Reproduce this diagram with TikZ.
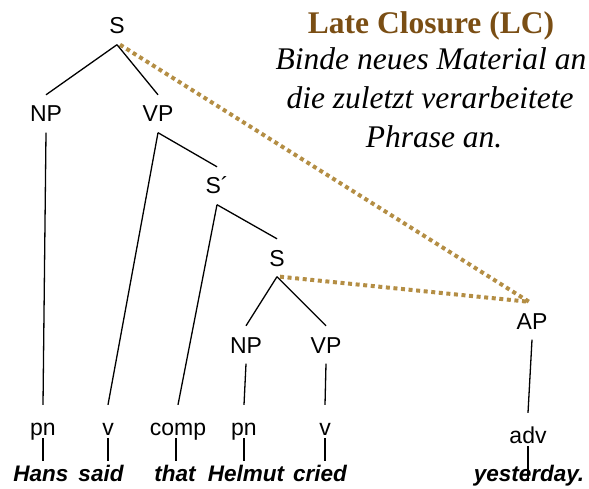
\documentclass[tikz,border=0pt]{standalone}
\usepackage{fontspec}
\setmainfont{Liberation Serif}
\setsansfont{Liberation Sans}
\definecolor{lcbrown}{RGB}{122,78,20}
\definecolor{lcgold}{RGB}{180,142,68}
\begin{document}
\begin{tikzpicture}[x=1pt,y=-1pt,
  lab/.style={font=\sffamily\fontsize{23}{27}\selectfont, inner xsep=0pt, inner ysep=10.5pt, text height=16.5pt, text depth=0pt, anchor=base},
  leaf/.style={font=\sffamily\fontsize{23}{27}\selectfont, inner sep=0pt, text height=30pt, text depth=3pt, anchor=base},
  word/.style={font=\sffamily\bfseries\itshape\fontsize{22.5}{27}\selectfont, inner sep=0pt, text height=20pt, text depth=5pt, anchor=base},
  edge/.style={draw=black, line width=1.3pt},
  lc/.style={draw=lcgold, line width=4pt, dash pattern=on 4pt off 3.6pt},
  rule/.style={font=\itshape\fontsize{31.5}{39}\selectfont, inner sep=0pt, anchor=base}
]
\useasboundingbox (0,0) rectangle (589,489);
% title and rule
\node[font=\bfseries\fontsize{31.5}{36}\selectfont, text=lcbrown, inner sep=0pt, anchor=base] (title) at (431,34) {Late Closure (LC)};
\node[rule] (rule1) at (431,70) {Binde neues Material an};
\node[rule] (rule2) at (430,109) {die zuletzt verarbeitete};
\node[rule] (rule3) at (434,148) {Phrase an.};
% tree labels
\node[lab] (S) at (117,34) {S};
\node[lab] (NP) at (46,122) {NP};
\node[lab] (VP) at (158,122) {VP};
\node[lab] (Sbar) at (217,194) {S´};
\node[lab] (S2) at (277,266) {S};
\node[lab] (NP2) at (246,353) {NP};
\node[lab] (VP2) at (326,353) {VP};
\node[lab] (AP) at (532,329) {AP};
% leaves
\node[leaf] (pn1) at (43,435) {pn};
\node[leaf] (v1) at (108,435) {v};
\node[leaf] (comp) at (178,435) {comp};
\node[leaf] (pn2) at (244,435) {pn};
\node[leaf] (v2) at (325,435) {v};
\node[leaf] (adv) at (528,443) {adv};
% words
\node[word] (w1) at (41,481) {Hans};
\node[word] (w2) at (101,481) {said};
\node[word] (w3) at (175,481) {that};
\node[word] (w4) at (246,481) {Helmut};
\node[word] (w5) at (320,481) {cried};
\node[word] (w6) at (529,481) {yesterday.};
% dotted attachment lines
\draw[lc] ([xshift=3pt]S.south) -- ([xshift=-3pt]AP.north);
\draw[lc] ([xshift=3pt]S2.south) -- ([xshift=-3pt]AP.north);
% tree edges
\draw[edge] (S.south) -- (NP.north);
\draw[edge] (S.south) -- (VP.north);
\draw[edge] (NP.south) -- (pn1.north);
\draw[edge] (VP.south) -- (v1.north);
\draw[edge] (VP.south) -- (Sbar.north);
\draw[edge] (Sbar.south) -- (comp.north);
\draw[edge] (Sbar.south) -- (S2.north);
\draw[edge] (S2.south) -- (NP2.north);
\draw[edge] (S2.south) -- (VP2.north);
\draw[edge] (NP2.south) -- (pn2.north);
\draw[edge] (VP2.south) -- (v2.north);
\draw[edge] (AP.south) -- (adv.north);
% leaf to word
\draw[edge] (pn1.south) -- (pn1.south |- w1.north);
\draw[edge] (v1.south) -- (v1.south |- w2.north);
\draw[edge] ([xshift=-2pt]comp.south) -- ([xshift=-2pt]comp.south |- w3.north);
\draw[edge] (pn2.south) -- (pn2.south |- w4.north);
\draw[edge] (v2.south) -- (v2.south |- w5.north);
\draw[edge] (adv.south) -- (adv.south |- w6.base);
\end{tikzpicture}
\end{document}
